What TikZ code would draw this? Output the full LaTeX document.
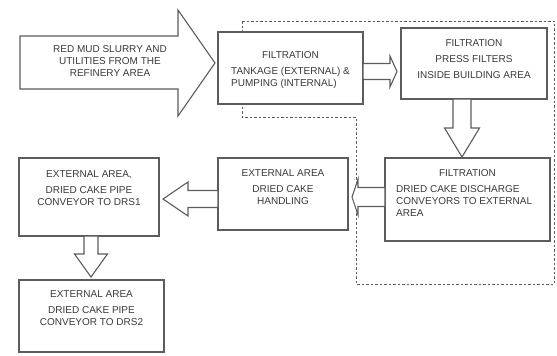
\documentclass[tikz,border=0pt]{standalone}
\usepackage{fontspec}
\setmainfont{Liberation Sans}
\usetikzlibrary{calc}
\definecolor{ln}{HTML}{5C5C5C}
\definecolor{tx}{HTML}{3A3A3A}
\tikzset{
  box/.style={draw=ln, line width=1.1pt, fill=white, inner sep=0pt, outer sep=0pt},
  lbl/.style={text=tx, inner sep=0pt, font=\fontsize{10}{12}\selectfont},
  blk/.style={draw=ln, line width=1.1pt, line join=miter, fill=white},
  zone/.style={draw=ln, line width=1pt, dash pattern=on 2.5pt off 2pt}
}
\newcommand\harrow[5]{\draw[blk] let \p1=#1, \p2=#2 in
  (\x1,{\y2+#3}) -- ({\x2+#5},{\y2+#3}) -- ({\x2+#5},{\y2+#4}) -- (\p2) --
  ({\x2+#5},{\y2-#4}) -- ({\x2+#5},{\y2-#3}) -- (\x1,{\y2-#3}) -- cycle;}
\newcommand\varrow[5]{\draw[blk] let \p1=#1, \p2=#2 in
  ({\x2+#3},\y1) -- ({\x2+#3},{\y2+#5}) -- ({\x2+#4},{\y2+#5}) -- (\p2) --
  ({\x2-#4},{\y2+#5}) -- ({\x2-#3},{\y2+#5}) -- ({\x2-#3},\y1) -- cycle;}
\begin{document}
\begin{tikzpicture}[x=1pt,y=-1pt]
\useasboundingbox (0,0) rectangle (557,356);
% dashed zone
\draw[zone] (242,21) -- (554,21) -- (554,284) -- (356,284) -- (356,117) -- (242,117) -- cycle;
% big input arrow
\draw[blk] (20,36) -- (178,36) -- (178,10) -- (215,63) -- (178,116) -- (178,89) -- (20,89) -- cycle;
\node[lbl, align=center] (src) at (110,61) {RED MUD SLURRY AND\\UTILITIES FROM THE\\REFINERY AREA};
% boxes
\node[box, minimum width=145, minimum height=72] (A) at (290.5,68) {};
\node[box, minimum width=146, minimum height=71] (B) at (474,63.5) {};
\node[box, minimum width=165, minimum height=83] (C) at (467.5,199.5) {};
\node[box, minimum width=130, minimum height=72] (D) at (283,194) {};
\node[box, minimum width=140, minimum height=78] (E) at (89,197) {};
\node[box, minimum width=145, minimum height=72] (F) at (91.5,316) {};
% texts
\node[lbl] (At) at (290.5,70.2) {\begin{tabular}{@{}l@{}}\multicolumn{1}{@{}c@{}}{FILTRATION}\\[4pt] TANKAGE (EXTERNAL) \&\\ PUMPING (INTERNAL)\end{tabular}};
\node[lbl, align=center] (Bt) at (474,59) {FILTRATION\\[4pt]PRESS FILTERS\\[4pt]INSIDE BUILDING AREA};
\node[lbl] (Ct) at (467.5,173) {FILTRATION};
\node[lbl, align=left, anchor=west] (Cb) at (396,201) {DRIED CAKE DISCHARGE\\CONVEYORS TO EXTERNAL\\AREA};
\node[lbl, align=center] (Dt) at (283,187) {EXTERNAL AREA\\[4pt]DRIED CAKE\\HANDLING};
\node[lbl, align=center] (Et) at (89,188.5) {EXTERNAL AREA,\\[4pt]DRIED CAKE PIPE\\CONVEYOR TO DRS1};
\node[lbl, align=center] (Ft) at (91.5,308.5) {EXTERNAL AREA\\[4pt]DRIED CAKE PIPE\\CONVEYOR TO DRS2};
% block arrows between boxes
\harrow{(A.east)}{($(B.west)+(-4,8)$)}{8pt}{15.5pt}{-7pt}
\varrow{(B.south)}{($(C.north)+(-5.5,-1)$)}{9pt}{17.5pt}{29pt}
\harrow{(C.west)}{($(D.east)+(4,3)$)}{9.5pt}{18pt}{6pt}
\harrow{(D.west)}{($(E.east)+(4,2)$)}{8.5pt}{17pt}{25pt}
\varrow{(E.south)}{($(F.north)+(-0.5,-3)$)}{7pt}{16.5pt}{23pt}
\end{tikzpicture}
\end{document}
